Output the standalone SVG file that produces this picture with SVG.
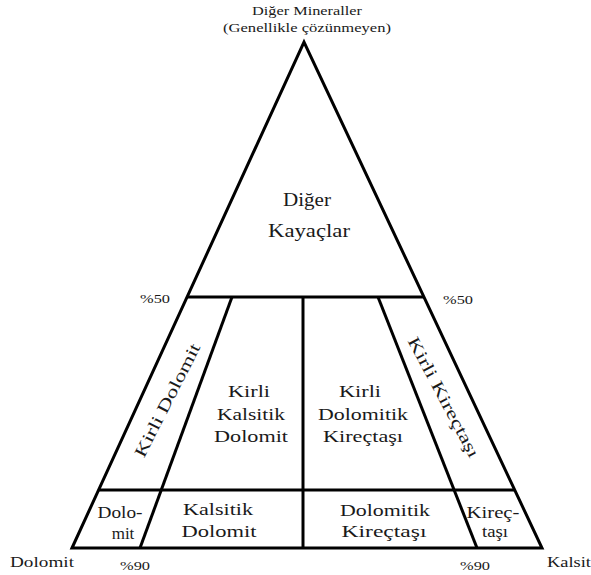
<svg xmlns="http://www.w3.org/2000/svg" width="591" height="575" viewBox="0 0 591 575">
<style>
.ln{stroke:#000;stroke-width:3;fill:none;stroke-linejoin:miter}
text{font-family:"Liberation Serif","Times New Roman",serif;fill:#1a1a1a;text-anchor:middle}
.big{font-size:18px}
.mid{font-size:17px}
.sm{font-size:12px}
.ax{font-size:15px}
</style>
<rect width="591" height="575" fill="#fff"/>
<g id="connectors">
<polygon class="ln" points="72,548 304,42 542,548"/>
<line class="ln" x1="187" y1="297" x2="424" y2="297"/>
<line class="ln" x1="99" y1="490" x2="515" y2="490"/>
<line class="ln" x1="303" y1="297" x2="303" y2="548"/>
<line class="ln" x1="232" y1="297" x2="140" y2="548"/>
<line class="ln" x1="378" y1="297" x2="477" y2="548"/>
</g>
<g id="apex-label">
<text class="sm" x="307" y="15" textLength="110" lengthAdjust="spacingAndGlyphs">Diğer Mineraller</text>
<text class="sm" x="307" y="32" textLength="168" lengthAdjust="spacingAndGlyphs">(Genellikle çözünmeyen)</text>
</g>
<g id="diger-kayaclar">
<text class="big" x="307" y="206" textLength="48" lengthAdjust="spacingAndGlyphs">Diğer</text>
<text class="big" x="309" y="237" textLength="82" lengthAdjust="spacingAndGlyphs">Kayaçlar</text>
</g>
<g id="percent-labels">
<text class="sm" x="155" y="303" textLength="30" lengthAdjust="spacingAndGlyphs">%50</text>
<text class="sm" x="458" y="304" textLength="30" lengthAdjust="spacingAndGlyphs">%50</text>
<text class="sm" x="135" y="570" textLength="30" lengthAdjust="spacingAndGlyphs">%90</text>
<text class="sm" x="475" y="570" textLength="30" lengthAdjust="spacingAndGlyphs">%90</text>
</g>
<g id="corner-labels">
<text class="ax" x="42" y="567" textLength="64" lengthAdjust="spacingAndGlyphs">Dolomit</text>
<text class="ax" x="569" y="567" textLength="44" lengthAdjust="spacingAndGlyphs">Kalsit</text>
</g>
<g id="kirli-dolomit">
<text class="mid" transform="translate(167,400) rotate(-63)" y="6" textLength="125" lengthAdjust="spacingAndGlyphs">Kirli Dolomit</text>
</g>
<g id="kirli-kirectasi">
<text class="mid" transform="translate(444,397) rotate(62)" y="6" textLength="134" lengthAdjust="spacingAndGlyphs">Kirli Kireçtaşı</text>
</g>
<g id="kirli-kalsitik-dolomit">
<text class="mid" x="249" y="397" textLength="42" lengthAdjust="spacingAndGlyphs">Kirli</text>
<text class="mid" x="251" y="420" textLength="68" lengthAdjust="spacingAndGlyphs">Kalsitik</text>
<text class="mid" x="251" y="442" textLength="74" lengthAdjust="spacingAndGlyphs">Dolomit</text>
</g>
<g id="kirli-dolomitik-kirectasi">
<text class="mid" x="360" y="397" textLength="42" lengthAdjust="spacingAndGlyphs">Kirli</text>
<text class="mid" x="363" y="420" textLength="90" lengthAdjust="spacingAndGlyphs">Dolomitik</text>
<text class="mid" x="363" y="442" textLength="80" lengthAdjust="spacingAndGlyphs">Kireçtaşı</text>
</g>
<g id="dolomit">
<text class="mid" x="120" y="518" textLength="45" lengthAdjust="spacingAndGlyphs">Dolo-</text>
<text class="mid" x="123" y="539">mit</text>
</g>
<g id="kalsitik-dolomit">
<text class="mid" x="218" y="515" textLength="70" lengthAdjust="spacingAndGlyphs">Kalsitik</text>
<text class="mid" x="219" y="537" textLength="75" lengthAdjust="spacingAndGlyphs">Dolomit</text>
</g>
<g id="dolomitik-kirectasi">
<text class="mid" x="385" y="516" textLength="90" lengthAdjust="spacingAndGlyphs">Dolomitik</text>
<text class="mid" x="384" y="537" textLength="85" lengthAdjust="spacingAndGlyphs">Kireçtaşı</text>
</g>
<g id="kirectasi">
<text class="mid" x="493" y="518" textLength="53" lengthAdjust="spacingAndGlyphs">Kireç-</text>
<text class="mid" x="495" y="537" textLength="26" lengthAdjust="spacingAndGlyphs">taşı</text>
</g>
</svg>
